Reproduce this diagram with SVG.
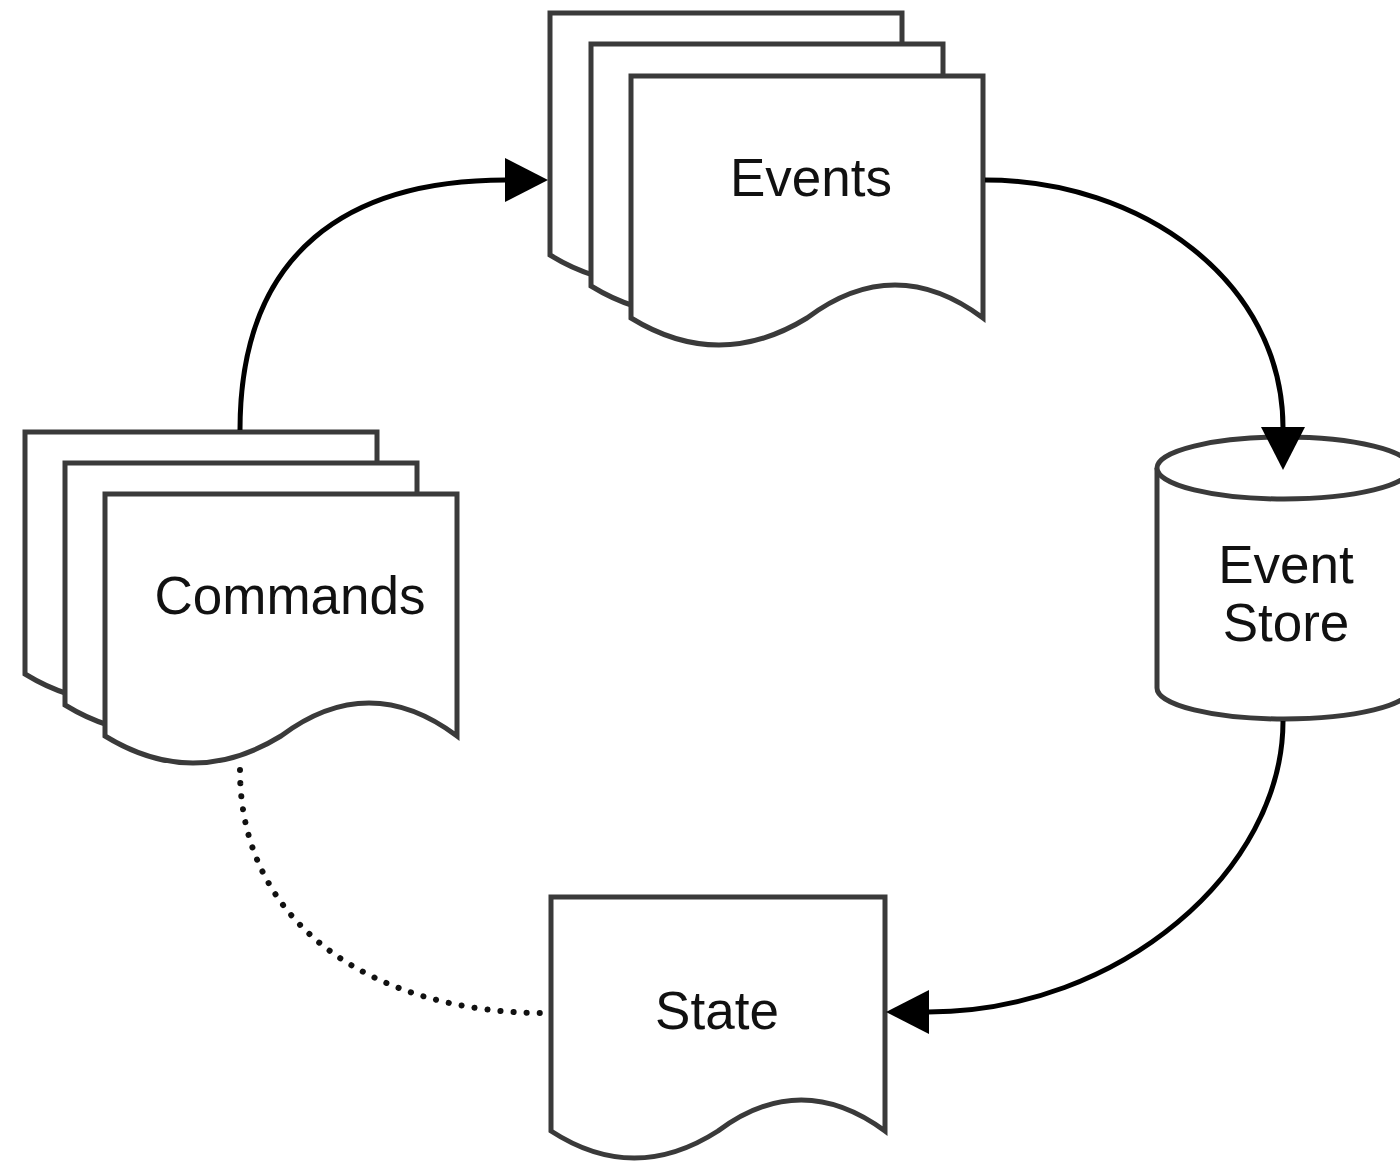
<svg xmlns="http://www.w3.org/2000/svg" width="1400" height="1163" viewBox="0 0 1400 1163">
  <defs>
    <style>
      .shape { fill: #ffffff; stroke: #3a3a3a; stroke-width: 5; stroke-linejoin: miter; }
      .label { font-family: "Liberation Sans", Arial, sans-serif; font-size: 53px; fill: #111111; text-anchor: middle; }
      .edge { fill: none; stroke: #000000; stroke-width: 5; }
      .dotted { fill: none; stroke: #111111; stroke-width: 6; stroke-dasharray: 0.1 13; stroke-linecap: round; }
    </style>
    <path id="doc" d="M0,0 H352 V242 Q264,176 176,242 Q88,296 0,242 Z"/>
    <marker id="arrow" markerUnits="userSpaceOnUse" markerWidth="44" markerHeight="46" viewBox="0 0 44 46" refX="1" refY="23" orient="auto">
      <path d="M0,1 L43,23 L0,45 Z" fill="#000000"/>
    </marker>
  </defs>
  <rect width="1400" height="1163" fill="#ffffff"/>

  <g id="events">
    <use href="#doc" class="shape" x="550" y="13"/>
    <use href="#doc" class="shape" x="591" y="44"/>
    <use href="#doc" class="shape" x="631" y="76"/>
    <text class="label" x="811" y="196">Events</text>
  </g>

  <g id="commands">
    <use href="#doc" class="shape" x="25" y="432"/>
    <use href="#doc" class="shape" x="65" y="463"/>
    <use href="#doc" class="shape" x="105" y="494"/>
    <text class="label" x="290" y="614">Commands</text>
  </g>

  <g id="event-store">
    <path class="shape" d="M1157,468 A127,31 0 0 1 1411,468 V688 A127,31 0 0 1 1157,688 Z"/>
    <path class="shape" fill="none" d="M1157,468 A127,31 0 0 0 1411,468"/>
    <text class="label" x="1286" y="583">Event</text>
    <text class="label" x="1286" y="641">Store</text>
  </g>

  <g id="state">
    <path class="shape" d="M551,897 H885 V1131 Q801,1069 718,1131 Q634,1185 551,1131 Z"/>
    <text class="label" x="717" y="1029">State</text>
  </g>

  <g id="connectors">
    <path class="edge" d="M240,430 C240,250 350,180 506,180" marker-end="url(#arrow)"/>
    <path class="edge" d="M985,180 C1140,180 1283,280 1283,428" marker-end="url(#arrow)"/>
    <path class="edge" d="M1283,721 C1283,870 1120,1012 928,1012" marker-end="url(#arrow)"/>
    <path class="dotted" d="M240,770 C240,930 380,1013 545,1013"/>
  </g>
</svg>
